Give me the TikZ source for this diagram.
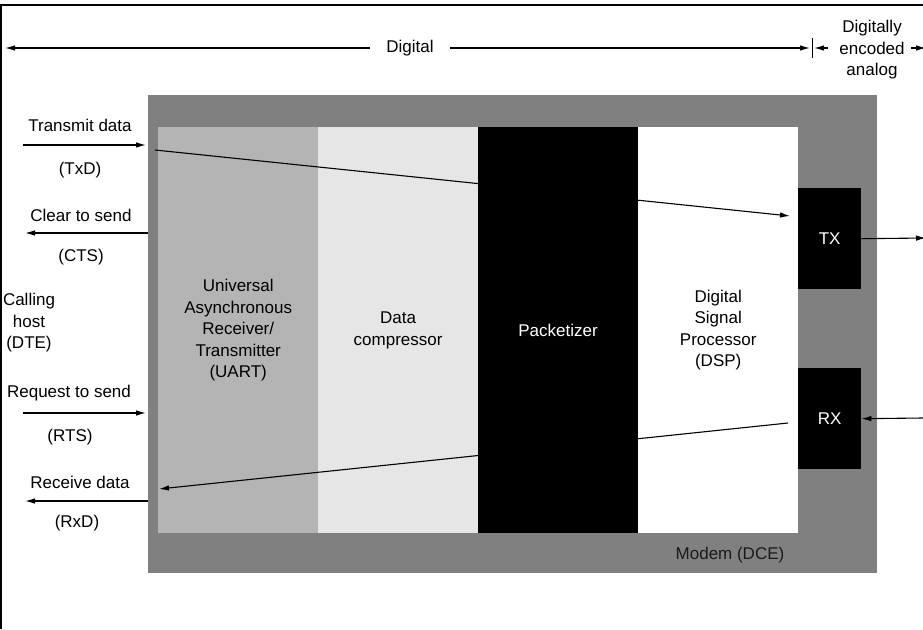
\documentclass[tikz,border=0pt]{standalone}
\usepackage{fontspec}
\setmainfont{Liberation Sans}
\usetikzlibrary{arrows.meta,positioning}
\definecolor{modemgray}{HTML}{808080}
\definecolor{uartgray}{HTML}{B4B4B4}
\definecolor{compgray}{HTML}{E6E6E6}
\definecolor{inkgray}{HTML}{1A1A1A}
\newcommand{\diagfont}{\fontsize{17}{21.5}\selectfont}
\tikzset{
  stagebox/.style={
    inner sep=0pt,
    minimum width=160pt,
    minimum height=406pt,
    align=center,
    font=\diagfont
  },
  chipbox/.style={
    fill=black,
    text=white,
    inner sep=0pt,
    minimum width=63pt,
    minimum height=101pt,
    anchor=north west,
    font=\diagfont
  },
  siglabel/.style={inner sep=0pt, align=center, font=\diagfont},
  sigarrow/.style={-{Latex[length=10pt,width=5.5pt]}, line width=1.1pt, draw=black}
}

\begin{document}
\begin{tikzpicture}[x=1pt,y=-1pt]
\useasboundingbox (0,0) rectangle (923,629);
\draw[line width=2pt] (1,629) -- (1,5) -- (923,5);
\node[siglabel,inner xsep=16pt] (dig) at (410,48) {Digital};
\node[siglabel] (dea) at (872,50) {Digitally\\encoded\\analog};
\coordinate (digL) at (5,48);
\coordinate (digR) at (810,48);
\coordinate (tickT) at (812,38);
\coordinate (tickB) at (812,58);
\coordinate (encA) at (828,48);
\coordinate (encB) at (814,48);
\coordinate (anaA) at (911,48);
\coordinate (anaB) at (926,48);
\draw[sigarrow] (dig.west) -- (digL);
\draw[sigarrow] (dig.east) -- (digR);
\draw[line width=1pt] (tickT) -- (tickB);
\draw[sigarrow] (encA) -- (encB);
\draw[sigarrow] (anaA) -- (anaB);
\node[fill=modemgray,inner sep=0pt,minimum width=729pt,minimum height=478pt,anchor=north west] (modem) at (148,95) {};
\node[stagebox,fill=uartgray,anchor=north west] (uart) at (158,127) {Universal\\Asynchronous\\Receiver/\\Transmitter\\(UART)};
\node[stagebox,fill=compgray,right=-0.5pt of uart] (comp) {Data\\compressor};
\node[stagebox,fill=white,anchor=north west] (dsp) at (638,127) {Digital\\Signal\\Processor\\(DSP)};
\node[chipbox] (tx) at (798,188) {TX};
\node[chipbox] (rx) at (798,368) {RX};
\node[siglabel,text=inkgray] (dce) at (730,555) {Modem (DCE)};
\coordinate (txin) at (155,150);
\coordinate (txout) at (790,216);
\coordinate (rxin) at (788,423);
\coordinate (rxout) at (159,489);
\draw[sigarrow] (txin) -- (txout);
\draw[sigarrow] (rxin) -- (rxout);
\node[stagebox,fill=black,text=white,right=-0.5pt of comp] (pack) {Packetizer};
\coordinate (lineout) at (926,238);
\coordinate (linein) at (923,418);
\draw[sigarrow] (tx.east) -- (lineout);
\draw[sigarrow] (linein) -- (rx.east);
\node[siglabel] (txdlbl) at (80,125) {Transmit data};
\node[siglabel] (txdname) at (80,170) {(TxD)};
\node[siglabel] (ctslbl) at (81,215) {Clear to send};
\node[siglabel] (ctsname) at (81,257) {(CTS)};
\node[siglabel] (dte) at (29,323) {Calling\\host\\(DTE)};
\node[siglabel] (rtslbl) at (69,393) {Request to send};
\node[siglabel] (rtsname) at (70,437) {(RTS)};
\node[siglabel] (rxdlbl) at (80,482) {Receive data};
\node[siglabel] (rxdname) at (77,523) {(RxD)};
\coordinate (txdA) at (23,145);
\coordinate (ctsA) at (25,233);
\coordinate (rtsA) at (23,413);
\coordinate (rxdA) at (25,501);
\draw[sigarrow] (txdA) -- ([xshift=-2pt]modem.west |- txdA);
\draw[sigarrow] (modem.west |- ctsA) -- (ctsA);
\draw[sigarrow] (rtsA) -- ([xshift=-2pt]modem.west |- rtsA);
\draw[sigarrow] (modem.west |- rxdA) -- (rxdA);
\end{tikzpicture}
\end{document}
